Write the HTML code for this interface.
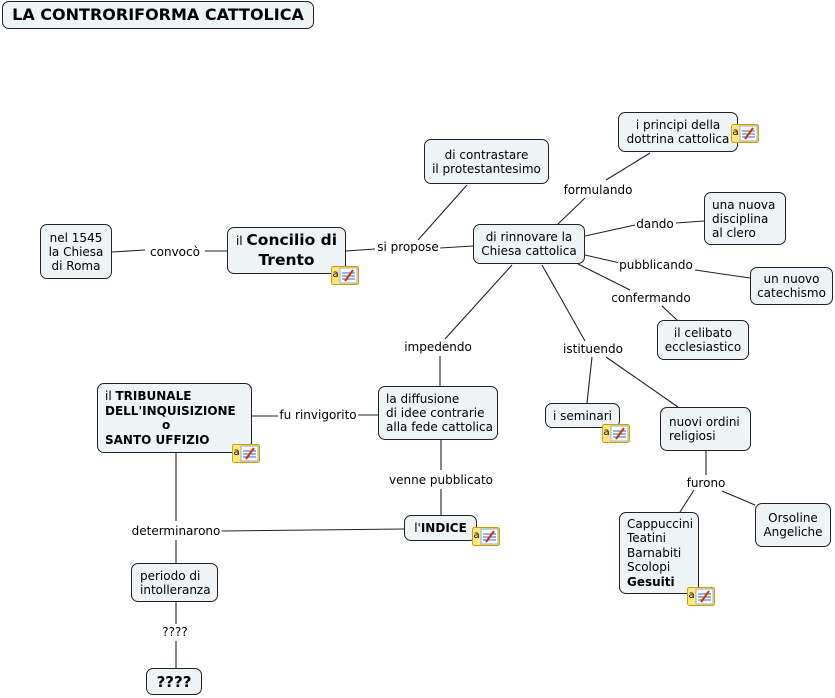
<!DOCTYPE html>
<html><head><meta charset="utf-8"><style>
body{margin:0;width:835px;height:698px;background:#fff;position:relative;overflow:hidden;font-family:"DejaVu Sans","Liberation Sans",sans-serif;font-size:12px;color:#000}
.n{position:absolute;box-sizing:border-box;border:1px solid #222;border-radius:7px;background:#eef3f5;display:flex;align-items:center;justify-content:center;text-align:center;line-height:14px;white-space:nowrap}
.n>span{display:block}
.lt{justify-content:flex-start;text-align:left}
.l{position:absolute;transform:translate(-50%,-50%);background:#fff;white-space:nowrap;padding:0 1px}
svg{position:absolute;left:0;top:0}
.ic{position:absolute;width:28px;height:19px}
</style></head><body>
<svg width="835" height="698" stroke="#222" stroke-width="1.1" fill="none">
<line x1="112" y1="252" x2="145" y2="250"/><line x1="205" y1="251" x2="227" y2="251"/>
<line x1="346" y1="251" x2="375" y2="249"/><line x1="440" y1="248" x2="473" y2="246"/>
<line x1="418" y1="240" x2="467" y2="185"/>
<line x1="558" y1="224" x2="585" y2="198"/><line x1="606" y1="180" x2="650" y2="153"/>
<line x1="585" y1="236" x2="635" y2="225"/><line x1="676" y1="223" x2="704" y2="221"/>
<line x1="585" y1="255" x2="620" y2="263"/><line x1="695" y1="270" x2="750" y2="278"/>
<line x1="578" y1="264" x2="630" y2="290"/><line x1="662" y1="306" x2="677" y2="320"/>
<line x1="512" y1="265" x2="445" y2="339"/><line x1="440" y1="356" x2="440" y2="386"/>
<line x1="542" y1="265" x2="585" y2="341"/><line x1="592" y1="357" x2="587" y2="403"/><line x1="606" y1="357" x2="678" y2="407"/>
<line x1="358" y1="415" x2="378" y2="415"/><line x1="252" y1="416" x2="278" y2="416"/>
<line x1="441" y1="440" x2="441" y2="470"/><line x1="441" y1="489" x2="441" y2="515"/>
<line x1="706" y1="451" x2="706" y2="475"/><line x1="694" y1="490" x2="680" y2="512"/><line x1="722" y1="491" x2="755" y2="505"/>
<line x1="176" y1="453" x2="176" y2="521"/><line x1="220" y1="531" x2="404" y2="529"/><line x1="176" y1="540" x2="176" y2="563"/>
<line x1="176" y1="602" x2="176" y2="624"/><line x1="176" y1="641" x2="176" y2="668"/>
</svg>
<div class="n" style="left:2px;top:1px;width:312px;height:28px;font-size:16px;font-weight:bold"><span>LA CONTRORIFORMA CATTOLICA</span></div>
<div class="n" style="left:40px;top:224px;width:72px;height:55px"><span>nel 1545<br>la Chiesa<br>di Roma</span></div>
<div class="n" style="left:227px;top:227px;width:119px;height:47px;line-height:19px"><span>il <b style="font-size:15.5px">Concilio di<br>Trento</b></span></div>
<div class="n" style="left:424px;top:139px;width:125px;height:45px"><span>di contrastare<br>il protestantesimo</span></div>
<div class="n" style="left:473px;top:224px;width:112px;height:40px"><span>di rinnovare la<br>Chiesa cattolica</span></div>
<div class="n" style="left:618px;top:112px;width:120px;height:40px"><span>i principi della<br>dottrina cattolica</span></div>
<div class="n lt" style="left:704px;top:192px;width:82px;height:53px;padding-left:7px"><span>una nuova<br>disciplina<br>al clero</span></div>
<div class="n" style="left:750px;top:267px;width:83px;height:38px"><span>un nuovo<br>catechismo</span></div>
<div class="n" style="left:657px;top:320px;width:92px;height:40px"><span>il celibato<br>ecclesiastico</span></div>
<div class="n" style="left:545px;top:403px;width:75px;height:25px"><span>i seminari</span></div>
<div class="n lt" style="left:660px;top:407px;width:91px;height:44px;padding-left:8px"><span>nuovi ordini<br>religiosi</span></div>
<div class="n" style="left:755px;top:503px;width:76px;height:44px"><span>Orsoline<br>Angeliche</span></div>
<div class="n lt" style="left:619px;top:512px;width:80px;height:82px;padding-left:7px;line-height:14.5px"><span>Cappuccini<br>Teatini<br>Barnabiti<br>Scolopi<br><b>Gesuiti</b></span></div>
<div class="n lt" style="left:378px;top:386px;width:120px;height:54px;padding-left:7px"><span>la diffusione<br>di idee contrarie<br>alla fede cattolica</span></div>
<div class="n lt" style="left:97px;top:383px;width:155px;height:70px;padding-left:7px;line-height:14.5px"><span>il <b>TRIBUNALE<br>DELL'INQUISIZIONE<br><span style="padding-left:57px">o</span><br>SANTO UFFIZIO</b></span></div>
<div class="n" style="left:404px;top:515px;width:73px;height:26px"><span>l'<b>INDICE</b></span></div>
<div class="n lt" style="left:131px;top:563px;width:87px;height:39px;padding-left:8px"><span>periodo di<br>intolleranza</span></div>
<div class="n" style="left:146px;top:668px;width:56px;height:27px;font-size:15px;font-weight:bold"><span>????</span></div>
<div class="l" style="left:175px;top:252px">convocò</div>
<div class="l" style="left:408px;top:247px">si propose</div>
<div class="l" style="left:598px;top:190px">formulando</div>
<div class="l" style="left:655px;top:224px">dando</div>
<div class="l" style="left:656px;top:265px">pubblicando</div>
<div class="l" style="left:651px;top:298px">confermando</div>
<div class="l" style="left:438px;top:347px">impedendo</div>
<div class="l" style="left:593px;top:349px">istituendo</div>
<div class="l" style="left:318px;top:415px">fu rinvigorito</div>
<div class="l" style="left:441px;top:480px">venne pubblicato</div>
<div class="l" style="left:706px;top:483px">furono</div>
<div class="l" style="left:176px;top:531px">determinarono</div>
<div class="l" style="left:175px;top:632px">????</div>
<svg width="0" height="0"><defs><g id="ico"><rect x="0.5" y="0.5" width="27" height="18" rx="2" fill="#ffe680" stroke="#c9a000"/><rect x="9" y="2" width="17" height="15" fill="#fff" stroke="#9ab"/><line x1="11" y1="7" x2="24" y2="7" stroke="#36c"/><line x1="11" y1="10" x2="24" y2="10" stroke="#36c"/><line x1="11" y1="13" x2="24" y2="13" stroke="#36c"/><line x1="14" y1="15" x2="22" y2="4" stroke="#c30" stroke-width="2"/><text x="1.5" y="11" font-size="10" font-family="DejaVu Sans" fill="#000">a</text></g></defs></svg>
<svg class="ic" style="left:331px;top:266px"><use href="#ico"/></svg>
<svg class="ic" style="left:731px;top:124px"><use href="#ico"/></svg>
<svg class="ic" style="left:602px;top:424px"><use href="#ico"/></svg>
<svg class="ic" style="left:687px;top:587px"><use href="#ico"/></svg>
<svg class="ic" style="left:232px;top:444px"><use href="#ico"/></svg>
<svg class="ic" style="left:472px;top:527px"><use href="#ico"/></svg>
</body></html>
